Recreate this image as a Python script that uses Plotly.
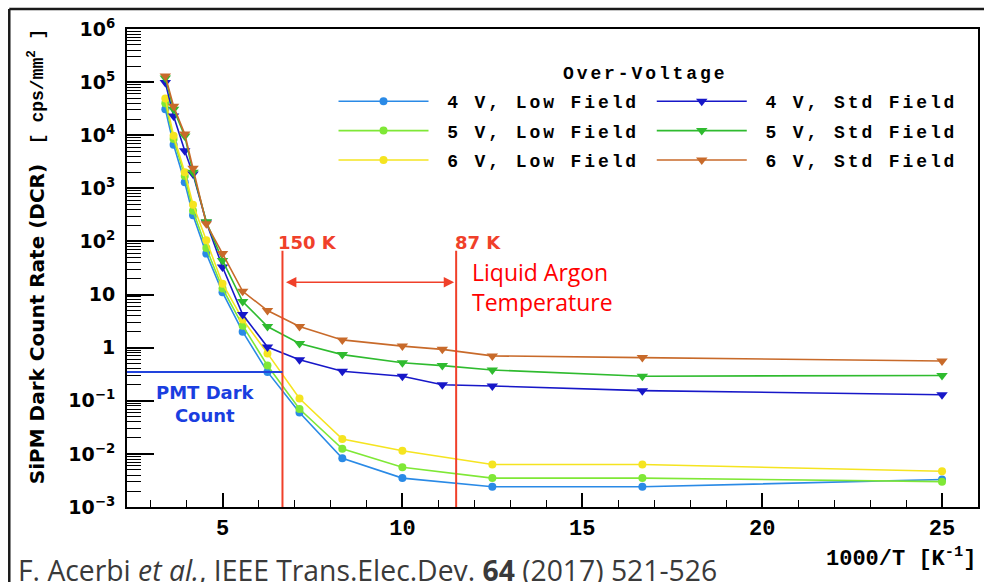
import math
import plotly.graph_objects as go

# ---------------- data ----------------
x_low = [3.41, 3.64, 3.95, 4.18, 4.55, 5.0, 5.56, 6.25, 7.14, 8.33, 10.0, 12.5, 16.67, 25.0]
x_std = [3.41, 3.64, 3.95, 4.18, 4.55, 5.0, 5.56, 6.25, 7.14, 8.33, 10.0, 11.11, 12.5, 16.67, 25.0]

dcr_4v_low = [3.1e4, 6.6e3, 1.3e3, 310, 59, 11, 2.0, 0.35, 0.060, 0.0083, 0.0035, 0.0024, 0.0024, 0.0033]
dcr_5v_low = [4.0e4, 8.5e3, 1.7e3, 380, 75, 13, 2.6, 0.46, 0.070, 0.0125, 0.0056, 0.0035, 0.0035, 0.0030]
dcr_6v_low = [4.9e4, 9.8e3, 2.0e3, 490, 105, 16, 3.4, 0.78, 0.11, 0.019, 0.0115, 0.0063, 0.0063, 0.0047]

dcr_4v_std = [9.8e4, 2.3e4, 5.1e3, 1.86e3, 230, 33, 4.2, 1.03, 0.59, 0.36, 0.29, 0.20, 0.19, 0.155, 0.13]
dcr_5v_std = [1.2e5, 3.1e4, 9.7e3, 2.0e3, 235, 44, 7.4, 2.5, 1.2, 0.74, 0.52, 0.46, 0.38, 0.29, 0.30]
dcr_6v_std = [1.3e5, 3.5e4, 1.05e4, 2.4e3, 215, 59, 11.5, 5.0, 2.5, 1.4, 1.07, 0.93, 0.70, 0.65, 0.56]

names_low = ["4 V, Low Field", "5 V, Low Field", "6 V, Low Field"]
names_std = ["4 V, Std Field", "5 V, Std Field", "6 V, Std Field"]
colors_low = ["#2a8ae6", "#7fe836", "#f5e420"]
colors_std = ["#1717c8", "#2fbb2f", "#c86a2a"]

temps_K = [150, 87]            # vertical marker temperatures
pmt_dark_count = 0.35          # PMT dark count level
arrow_level = 17               # y level of the LAr arrow
line_top = 67                  # top of the red temperature lines

x_tickvals = [5, 10, 15, 20, 25]
x_ticktext = ["5", "10", "15", "20", "25"]
y_tickvals = [1e-3, 1e-2, 1e-1, 1, 10, 1e2, 1e3, 1e4, 1e5, 1e6]
y_ticktext = ["10<sup>\u22123</sup>", "10<sup>\u22122</sup>", "10<sup>\u22121</sup>", "1", "10",
              "10<sup>2</sup>", "10<sup>3</sup>", "10<sup>4</sup>", "10<sup>5</sup>", "10<sup>6</sup>"]

# ---------------- layout geometry ----------------
W, H = 984, 582
ML, MR, MT, MB = 127, 4, 29, 75
PW, PH = W - ML - MR, H - MT - MB
x_range = [2.345, 26.0]


def px_x(px):
    return (px - ML) / PW


def px_y(py):
    return (H - MB - py) / PH


def spaced(t, sp=2.9):
    return '<span style="letter-spacing:%spx">%s</span>' % (sp, t)


MONO = "Liberation Mono"
fig = go.Figure()

for i in range(3):
    fig.add_trace(go.Scatter(
        x=x_low, y=[dcr_4v_low, dcr_5v_low, dcr_6v_low][i], mode="lines+markers",
        name=spaced("\u00a0" + names_low[i]), legend="legend", legendgroup="low%d" % i,
        line=dict(color=colors_low[i], width=1.6),
        marker=dict(symbol="circle", size=8, color=colors_low[i])))
for i in range(3):
    fig.add_trace(go.Scatter(
        x=x_std, y=[dcr_4v_std, dcr_5v_std, dcr_6v_std][i], mode="lines+markers",
        name=spaced("\u00a0" + names_std[i]), legend="legend2", legendgroup="std%d" % i,
        line=dict(color=colors_std[i], width=1.6),
        marker=dict(symbol="triangle-down", size=10, color=colors_std[i])))

# red temperature lines
for T in temps_K:
    fig.add_trace(go.Scatter(x=[1000 / T, 1000 / T], y=[1e-3, line_top], mode="lines",
                             line=dict(color="#f0402a", width=2), showlegend=False,
                             hoverinfo="skip"))
# PMT dark count line
fig.add_trace(go.Scatter(x=[x_range[0] - 0.1, 1000 / temps_K[0]], y=[pmt_dark_count] * 2,
                         mode="lines", line=dict(color="#2244dd", width=2), showlegend=False,
                         hoverinfo="skip", cliponaxis=False))

red = "#f0402a"
ann = []
ann.append(dict(x=1000 / temps_K[1], y=math.log10(arrow_level), ax=1000 / temps_K[0],
                ay=math.log10(arrow_level), xref="x", yref="y", axref="x", ayref="y",
                text="", showarrow=True, arrowside="end+start", arrowhead=2, arrowsize=1.3,
                arrowwidth=1.6, arrowcolor=red, standoff=2, startstandoff=2))
ann.append(dict(x=1000 / temps_K[0], y=1.98, xref="x", yref="y", text="150 K", showarrow=False,
                xanchor="left", yanchor="middle", xshift=-6,
                font=dict(family="DejaVu Sans", size=18, color=red, weight="bold")))
ann.append(dict(x=1000 / temps_K[1], y=1.98, xref="x", yref="y", text="87 K", showarrow=False,
                xanchor="left", yanchor="middle", xshift=-3,
                font=dict(family="DejaVu Sans", size=18, color=red, weight="bold")))
ann.append(dict(x=1000 / temps_K[1], y=1.135, xref="x", yref="y",
                text="Liquid Argon<br>Temperature", showarrow=False, align="left",
                xanchor="left", yanchor="middle", xshift=14,
                font=dict(family="Open Sans", size=23, color="#ff0000")))
ann.append(dict(x=4.53, y=-1.06, xref="x", yref="y", text="PMT Dark<br>Count", showarrow=False,
                align="center", xanchor="center", yanchor="middle",
                font=dict(family="DejaVu Sans", size=18, color="#1a3ee0", weight="bold")))
# legend heading
ann.append(dict(x=px_x(646), y=px_y(74), xref="paper", yref="paper", xanchor="center",
                yanchor="middle", text=spaced("Over-Voltage"), showarrow=False,
                font=dict(family=MONO, size=18, color="black", weight="bold")))
# axis titles
ann.append(dict(x=px_x(37), y=px_y(324), xref="paper", yref="paper", xanchor="center",
                yanchor="middle", text="SiPM Dark Count Rate (DCR)", textangle=-90,
                showarrow=False,
                font=dict(family="DejaVu Sans", size=20, color="black", weight="bold")))
ann.append(dict(x=px_x(37), y=px_y(86), xref="paper", yref="paper", xanchor="center",
                yanchor="middle", text="[ cps/mm<sup>2</sup> ]", textangle=-90,
                showarrow=False, font=dict(family=MONO, size=18, color="black", weight="bold")))
ann.append(dict(x=px_x(981), y=px_y(557), xref="paper", yref="paper", xanchor="right",
                yanchor="middle", text="1000/T [K<sup>-1</sup>]", showarrow=False,
                font=dict(family=MONO, size=22, color="black", weight="bold")))
# citation
ann.append(dict(x=px_x(16), y=px_y(570), xref="paper", yref="paper", xanchor="left",
                yanchor="middle",
                text="F. Acerbi <i>et al.</i>, IEEE Trans.Elec.Dev. <b>64</b> (2017) 521-526",
                showarrow=False, font=dict(family="Open Sans", size=28.3, color="#3a3a3a")))

shapes = [
    dict(type="line", xref="paper", yref="paper", x0=px_x(9), x1=px_x(990), y0=px_y(9),
         y1=px_y(9), line=dict(color="#1a1a1a", width=2.5)),
    dict(type="line", xref="paper", yref="paper", x0=px_x(9), x1=px_x(9), y0=px_y(9),
         y1=px_y(590), line=dict(color="#1a1a1a", width=2.5)),
]

minor_y = [k * 10.0 ** d for d in range(-3, 6) for k in range(2, 10)]

legend_common = dict(orientation="v", xanchor="left", yanchor="top", itemwidth=90,
                     bgcolor="rgba(0,0,0,0)", tracegroupgap=3,
                     font=dict(family=MONO, size=18, color="black", weight="bold"))

fig.update_layout(
    width=W, height=H, margin=dict(l=ML, r=MR, t=MT, b=MB, pad=0),
    paper_bgcolor="white", plot_bgcolor="white",
    annotations=ann, shapes=shapes,
    legend=dict(x=px_x(334), y=px_y(83), **legend_common),
    legend2=dict(x=px_x(653), y=px_y(83), **legend_common),
    xaxis=dict(type="linear", range=x_range, showgrid=False, zeroline=False,
               showline=True, linecolor="black", linewidth=2, mirror=True,
               tickmode="array", tickvals=x_tickvals, ticktext=x_ticktext,
               ticks="inside", ticklen=14, tickwidth=1.5, tickcolor="black",
               tickfont=dict(family=MONO, size=22, color="black", weight="bold"),
               ticklabelstandoff=0,
               minor=dict(ticks="inside", dtick=1, tick0=0, ticklen=7, tickwidth=1,
                          tickcolor="black", showgrid=False)),
    yaxis=dict(type="log", range=[-3, 6], showgrid=False, zeroline=False,
               showline=True, linecolor="black", linewidth=2, mirror=True,
               tickmode="array", tickvals=y_tickvals, ticktext=y_ticktext,
               ticks="inside", ticklen=27, tickwidth=1.5, tickcolor="black",
               tickfont=dict(family="DejaVu Sans", size=19, color="black", weight="bold"),
               ticklabelstandoff=6,
               minor=dict(ticks="inside", tickmode="array", tickvals=minor_y, ticklen=14,
                          tickwidth=1, tickcolor="black", showgrid=False)),
)

fig.write_html("out.html")
